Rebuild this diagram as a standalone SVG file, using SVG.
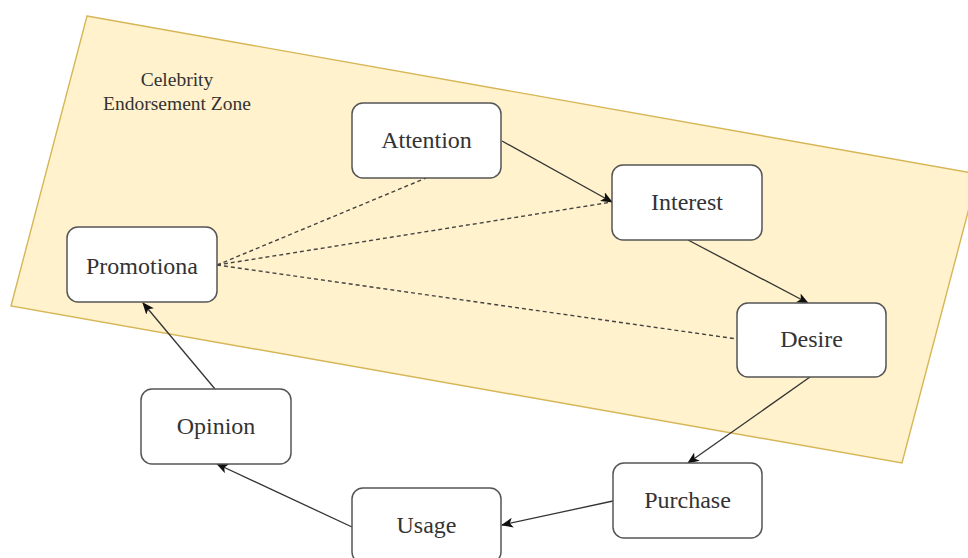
<svg xmlns="http://www.w3.org/2000/svg" width="968" height="558" viewBox="0 0 968 558">
<defs>
<style>
.node rect{fill:#ffffff;stroke:#555555;stroke-width:1.5}
.node text{font-family:"Liberation Serif","Times New Roman",serif;font-size:24px;fill:#333333;text-anchor:middle}
.zone{fill:#fff2cc;stroke:#d6b656;stroke-width:1.4}
.zlabel{font-family:"Liberation Serif","Times New Roman",serif;font-size:19.5px;fill:#333333;text-anchor:middle}
.edge{fill:none;stroke:#333333;stroke-width:1.3}
.dash{fill:none;stroke:#444444;stroke-width:1.4;stroke-dasharray:4 3}
</style>
<marker id="arr" viewBox="0 0 12 10" refX="11" refY="5" markerWidth="12" markerHeight="10" markerUnits="userSpaceOnUse" orient="auto">
<path d="M0,0 L12,5 L0,10 L3,5 z" fill="#111111"/>
</marker>
</defs>
<rect width="968" height="558" fill="#ffffff"/>
<g id="zone">
<polygon class="zone" points="87,16 978,174 902,463 11,306"/>
<text class="zlabel" x="177" y="86">Celebrity</text>
<text class="zlabel" x="177" y="110">Endorsement Zone</text>
</g>
<g id="connectors">
<line class="dash" x1="217" y1="265" x2="426" y2="178"/>
<line class="dash" x1="217" y1="265" x2="612" y2="202"/>
<line class="dash" x1="217" y1="265" x2="737" y2="339"/>
<line class="edge" x1="502" y1="141" x2="612" y2="202" marker-end="url(#arr)"/>
<line class="edge" x1="688" y1="240" x2="808" y2="303" marker-end="url(#arr)"/>
<line class="edge" x1="810" y1="377" x2="688" y2="463" marker-end="url(#arr)"/>
<line class="edge" x1="613" y1="501" x2="502" y2="525" marker-end="url(#arr)"/>
<line class="edge" x1="352" y1="527" x2="217" y2="464" marker-end="url(#arr)"/>
<line class="edge" x1="215" y1="389" x2="143" y2="303" marker-end="url(#arr)"/>
</g>
<g id="attention" class="node"><rect x="352" y="103" width="149" height="75" rx="11"/><text x="426.5" y="148">Attention</text></g>
<g id="interest" class="node"><rect x="612" y="165" width="150" height="75" rx="11"/><text x="687" y="210">Interest</text></g>
<g id="desire" class="node"><rect x="737" y="303" width="149" height="74" rx="11"/><text x="811.5" y="347">Desire</text></g>
<g id="promotiona" class="node"><rect x="67" y="227" width="150" height="75" rx="11"/><text x="142" y="274">Promotiona</text></g>
<g id="opinion" class="node"><rect x="141" y="389" width="150" height="75" rx="11"/><text x="216" y="434">Opinion</text></g>
<g id="usage" class="node"><rect x="352" y="488" width="149" height="75" rx="11"/><text x="426.5" y="533">Usage</text></g>
<g id="purchase" class="node"><rect x="613" y="463" width="149" height="75" rx="11"/><text x="687.5" y="508">Purchase</text></g>
</svg>
